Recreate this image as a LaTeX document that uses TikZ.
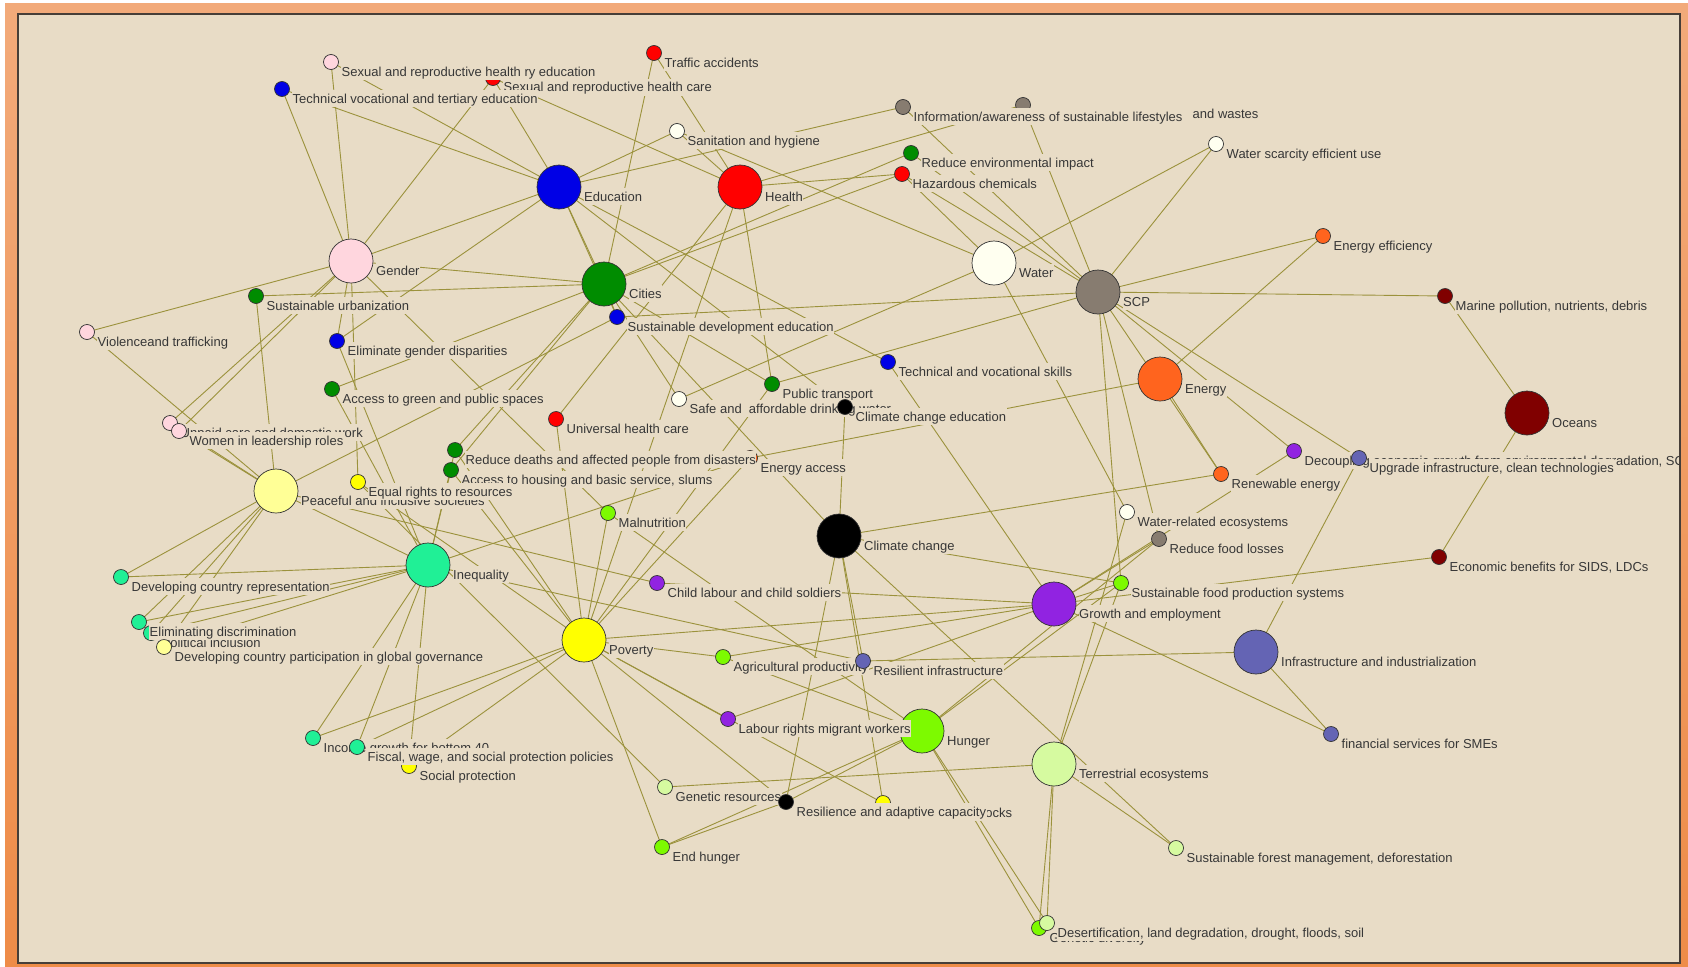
\documentclass[tikz,border=0pt]{standalone}
\usepackage{fontspec}
\setmainfont{Liberation Sans}
\definecolor{bgc}{RGB}{232,220,198}
\definecolor{edgec}{RGB}{155,146,60}
\definecolor{ndline}{RGB}{50,50,50}
\definecolor{txtc}{RGB}{55,55,55}
\definecolor{ortop}{RGB}{242,170,122}
\definecolor{orbot}{RGB}{238,140,72}
\definecolor{framec}{RGB}{70,62,56}
\definecolor{cPink}{RGB}{255,214,222}
\definecolor{cBlue}{RGB}{0,0,230}
\definecolor{cRed}{RGB}{255,0,0}
\definecolor{cGreen}{RGB}{0,140,0}
\definecolor{cWhite}{RGB}{255,255,240}
\definecolor{cGray}{RGB}{135,124,112}
\definecolor{cOrange}{RGB}{255,100,30}
\definecolor{cDRed}{RGB}{128,0,0}
\definecolor{cLYel}{RGB}{255,255,150}
\definecolor{cYel}{RGB}{255,255,0}
\definecolor{cTeal}{RGB}{32,240,150}
\definecolor{cBlack}{RGB}{0,0,0}
\definecolor{cPurple}{RGB}{145,35,225}
\definecolor{cSlate}{RGB}{100,100,180}
\definecolor{cLime}{RGB}{125,250,0}
\definecolor{cPale}{RGB}{214,250,160}
\pgfdeclarelayer{panel}
\pgfdeclarelayer{edges}
\pgfsetlayers{panel,edges,main}
\newcommand\labelfnt{\fontsize{13}{15}\selectfont}
\newcommand\gn[6]{%
  \node[dot, fill=#4, minimum size={2*#5pt}] (#1) at (#2,#3) {};
  \node[lbl] (#1L) at ({#2+#5+2.5},{#3+14}) {#6};}
\begin{document}
\begin{tikzpicture}[x=1pt,y=-1pt,
  dot/.style={circle, draw=ndline, line width=0.7pt, inner sep=0pt, outer sep=0pt},
  lbl/.style={anchor=base west, fill=bgc, text=txtc, inner xsep=0.5pt, inner ysep=0.3pt,
              text height=12.5pt, text depth=3.5pt, font=\labelfnt},
  edge/.style={draw=edgec, line width=0.9pt},
  frame/.style={draw=framec, line width=1.6pt}]
\useasboundingbox (0,0) rectangle (1688,966);
\begin{pgfonlayer}{panel}
  \fill[white] (0,0) rectangle (1688,966);
  \shade[top color=ortop, bottom color=orbot] (5,4) rectangle (1688,966);
  \fill[bgc] (18,14) rectangle (1680,963);
\end{pgfonlayer}
% nodes, in drawing order
\gn{SRHcare}{493}{78}{cRed}{7.5}{Sexual and reproductive health care}
\gn{SRHedu}{331}{62}{cPink}{7.5}{Sexual and reproductive health ry education}
\gn{TVTE}{282}{89}{cBlue}{7.5}{Technical vocational and tertiary education}
\gn{Traffic}{654}{53}{cRed}{7.5}{Traffic accidents}
\gn{Sanit}{677}{131}{cWhite}{7.5}{Sanitation and hygiene}
\node[dot, fill=cGray, minimum size=15pt] (Wastes) at (1023,105) {};
\node[lbl] (WastesL) at (1192,118) {and wastes};
\gn{Info}{903}{107}{cGray}{7.5}{Information/awareness of sustainable lifestyles}
\gn{RedEnv}{911}{153}{cGreen}{7.5}{Reduce environmental impact}
\gn{Hazard}{902}{174}{cRed}{7.5}{Hazardous chemicals}
\gn{WaterSc}{1216}{144}{cWhite}{7.5}{Water scarcity efficient use}
\gn{Educ}{559}{187}{cBlue}{22}{Education}
\gn{Health}{740}{187}{cRed}{22}{Health}
\gn{Gender}{351}{261}{cPink}{22}{Gender}
\gn{Cities}{604}{284}{cGreen}{22}{Cities}
\gn{Water}{994}{263}{cWhite}{22}{Water}
\gn{SCP}{1098}{292}{cGray}{22}{SCP}
\gn{EnEff}{1323}{236}{cOrange}{7.5}{Energy efficiency}
\gn{Marine}{1445}{296}{cDRed}{7.5}{Marine pollution, nutrients, debris}
\gn{SusUrb}{256}{296}{cGreen}{7.5}{Sustainable urbanization}
\gn{Viol}{87}{332}{cPink}{7.5}{Violenceand trafficking}
\gn{SDE}{617}{317}{cBlue}{7.5}{Sustainable development education}
\gn{ElimGD}{337}{341}{cBlue}{7.5}{Eliminate gender disparities}
\gn{TVS}{888}{362}{cBlue}{7.5}{Technical and vocational skills}
\gn{Energy}{1160}{379}{cOrange}{22}{Energy}
\gn{Green}{332}{389}{cGreen}{7.5}{Access to green and public spaces}
\gn{PubTr}{772}{384}{cGreen}{7.5}{Public transport}
\gn{SafeW}{679}{399}{cWhite}{7.5}{Safe and\ \ affordable drinking water}
\gn{CCE}{845}{407}{cBlack}{7.5}{Climate change education}
\gn{UHC}{556}{419}{cRed}{7.5}{Universal health care}
\gn{Oceans}{1527}{413}{cDRed}{22}{Oceans}
\gn{Unpaid}{170}{423}{cPink}{7.5}{Unpaid care and domestic work}
\gn{Women}{179}{431}{cPink}{7.5}{Women in leadership roles}
\gn{Decoup}{1294}{451}{cPurple}{7.5}{Decoupling economic growth from environmental degradation, SCP}
\gn{Upgrade}{1359}{458}{cSlate}{7.5}{Upgrade infrastructure, clean technologies}
\gn{EnAcc}{750}{458}{cOrange}{7.5}{Energy access}
\gn{RedDeaths}{455}{450}{cGreen}{7.5}{Reduce deaths and affected people from disasters}
\gn{Housing}{451}{470}{cGreen}{7.5}{Access to housing and basic service, slums}
\gn{Renew}{1221}{474}{cOrange}{7.5}{Renewable energy}
\gn{Peace}{276}{491}{cLYel}{22}{Peaceful and inclusive societies}
\gn{Equal}{358}{482}{cYel}{7.5}{Equal rights to resources}
\gn{WaterEco}{1127}{512}{cWhite}{7.5}{Water-related ecosystems}
\gn{Maln}{608}{513}{cLime}{7.5}{Malnutrition}
\gn{Climate}{839}{536}{cBlack}{22}{Climate change}
\gn{FoodLoss}{1159}{539}{cGray}{7.5}{Reduce food losses}
\gn{EconSIDS}{1439}{557}{cDRed}{7.5}{Economic benefits for SIDS, LDCs}
\gn{Ineq}{428}{565}{cTeal}{22}{Inequality}
\gn{DevRep}{121}{577}{cTeal}{7.5}{Developing country representation}
\gn{Child}{657}{583}{cPurple}{7.5}{Child labour and child soldiers}
\gn{SusFood}{1121}{583}{cLime}{7.5}{Sustainable food production systems}
\gn{Growth}{1054}{604}{cPurple}{22}{Growth and employment}
\gn{PolIncl}{151}{633}{cTeal}{7.5}{Political inclusion}
\gn{ElimDisc}{139}{622}{cTeal}{7.5}{Eliminating discrimination}
\gn{DevPart}{164}{647}{cLYel}{7.5}{Developing country participation in global governance}
\gn{Poverty}{584}{640}{cYel}{22}{Poverty}
\gn{Agri}{723}{657}{cLime}{7.5}{Agricultural productivity}
\gn{ResInf}{863}{661}{cSlate}{7.5}{Resilient infrastructure}
\gn{Infra}{1256}{652}{cSlate}{22}{Infrastructure and industrialization}
\gn{Hunger}{922}{731}{cLime}{22}{Hunger}
\gn{Labour}{728}{719}{cPurple}{7.5}{Labour rights migrant workers}
\gn{FinSME}{1331}{734}{cSlate}{7.5}{financial services for SMEs}
\gn{SocProt}{409}{766}{cYel}{7.5}{Social protection}
\gn{Income}{313}{738}{cTeal}{7.5}{Income growth for bottom 40}
\gn{Fiscal}{357}{747}{cTeal}{7.5}{Fiscal, wage, and social protection policies}
\gn{Terr}{1054}{764}{cPale}{22}{Terrestrial ecosystems}
\gn{GenRes}{665}{787}{cPale}{7.5}{Genetic resources}
\gn{Shocks}{883}{803}{cYel}{7.5}{Resilience to shocks}
\gn{Resil}{786}{802}{cBlack}{7.5}{Resilience and adaptive capacity}
\gn{EndHunger}{662}{847}{cLime}{7.5}{End hunger}
\gn{SusForest}{1176}{848}{cPale}{7.5}{Sustainable forest management, deforestation}
\gn{GenDiv}{1039}{928}{cLime}{7.5}{Genetic diversity}
\gn{Desert}{1047}{923}{cPale}{7.5}{Desertification, land degradation, drought, floods, soil}
% connectors
\begin{pgfonlayer}{edges}
\foreach \a/\b in {Educ/TVTE, Educ/SRHedu, Educ/SRHcare, Educ/Gender, Educ/Sanit, Educ/Info, Educ/Cities, Educ/TVS, Educ/CCE, Educ/ElimGD, Educ/SDE,
 Health/SRHcare, Health/Traffic, Health/Sanit, Health/Hazard, Health/Wastes, Health/UHC, Health/Poverty, Health/PubTr,
 Gender/SRHedu, Gender/TVTE, Gender/SRHcare, Gender/Viol, Gender/Unpaid, Gender/Women, Gender/ElimGD, Gender/Equal, Gender/Cities, Gender/Maln,
 Cities/Traffic, Cities/RedEnv, Cities/Hazard, Cities/SusUrb, Cities/Green, Cities/PubTr, Cities/RedDeaths, Cities/Housing, Cities/SDE, Cities/SafeW, Cities/Climate,
 Water/Sanit, Water/Hazard, Water/WaterSc, Water/SafeW, Water/WaterEco,
 SCP/Info, SCP/Wastes, SCP/RedEnv, SCP/Hazard, SCP/WaterSc, SCP/EnEff, SCP/Marine, SCP/Decoup, SCP/Upgrade, SCP/FoodLoss, SCP/SDE, SCP/SusFood, SCP/PubTr, SCP/Renew,
 Energy/EnEff, Energy/Renew, Energy/EnAcc,
 Oceans/Marine, Oceans/EconSIDS,
 Climate/CCE, Climate/Renew, Climate/Resil, Climate/Shocks, Climate/SusForest, Climate/SusFood, Climate/ResInf,
 Growth/Child, Growth/Agri, Growth/FoodLoss, Growth/SusFood, Growth/Decoup, Growth/FinSME, Growth/EconSIDS, Growth/TVS, Growth/Labour, Growth/Poverty,
 Infra/ResInf, Infra/Upgrade, Infra/FinSME,
 Hunger/GenDiv, Hunger/Desert, Hunger/SusFood, Hunger/FoodLoss, Hunger/EndHunger, Hunger/Maln, Hunger/Agri, Hunger/Resil,
 Terr/GenRes, Terr/Desert, Terr/GenDiv, Terr/SusForest, Terr/WaterEco, Terr/SusFood,
 Poverty/Equal, Poverty/SocProt, Poverty/Fiscal, Poverty/Income, Poverty/Agri, Poverty/Labour, Poverty/Shocks, Poverty/Resil, Poverty/EndHunger, Poverty/UHC, Poverty/Maln, Poverty/EnAcc, Poverty/Housing, Poverty/RedDeaths, Poverty/PubTr,
 Ineq/DevRep, Ineq/ElimDisc, Ineq/PolIncl, Ineq/DevPart, Ineq/Income, Ineq/Fiscal, Ineq/SocProt, Ineq/Peace, Ineq/EnAcc, Ineq/Housing, Ineq/RedDeaths, Ineq/Green, Ineq/ElimGD, Ineq/ResInf,
 Peace/DevRep, Peace/ElimDisc, Peace/PolIncl, Peace/DevPart, Peace/Viol, Peace/Unpaid, Peace/Women, Peace/SusUrb, Peace/SDE, Peace/Child,
 Equal/GenRes, EndHunger/Resil}
  {\draw[edge] (\a.center) -- (\b.center);}
\end{pgfonlayer}
% frame on top (cuts overflowing labels)
\shade[top color=ortop, bottom color=orbot] (1681,4) rectangle (1688,966);
\draw[frame] (18,14) rectangle (1680,963);
\end{tikzpicture}
\end{document}
